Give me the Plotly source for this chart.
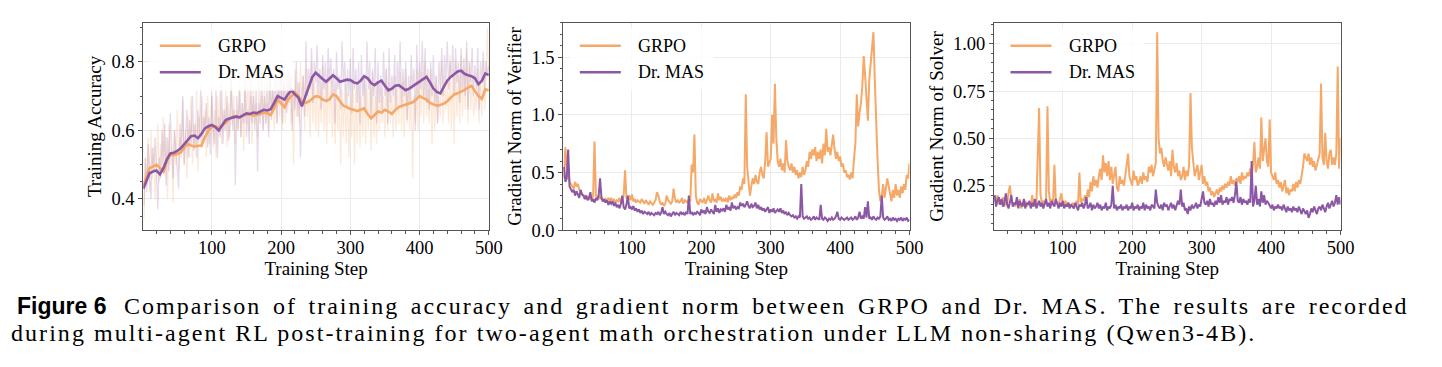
import plotly.graph_objects as go

# ---------------- data ----------------
steps_s = [1] + list(range(5, 501, 5))      # smoothed accuracy curves
steps_r = list(range(2, 501, 2))            # raw / per-step curves

acc_grpo_raw = [0.34, 0.52, 0.44, 0.58, 0.42,
    0.60, 0.46, 0.55, 0.40, 0.52, 0.62, 0.45, 0.56, 0.48, 0.64,
    0.47, 0.58, 0.40, 0.62, 0.50, 0.55, 0.39, 0.60, 0.50, 0.66,
    0.48, 0.58, 0.52, 0.69, 0.50, 0.60, 0.46, 0.64, 0.52, 0.70,
    0.50, 0.62, 0.55, 0.72, 0.48, 0.64, 0.55, 0.70, 0.58, 0.66,
    0.52, 0.70, 0.56, 0.62, 0.72, 0.55, 0.66, 0.52, 0.70, 0.60,
    0.74, 0.56, 0.66, 0.60, 0.72, 0.55, 0.68, 0.58, 0.74, 0.62,
    0.70, 0.56, 0.66, 0.60, 0.75, 0.58, 0.68, 0.54, 0.72, 0.62,
    0.76, 0.60, 0.70, 0.56, 0.74, 0.62, 0.68, 0.58, 0.76, 0.64,
    0.70, 0.60, 0.74, 0.62, 0.68, 0.60, 0.78, 0.64, 0.72, 0.60,
    0.70, 0.62, 0.76, 0.64, 0.72, 0.60, 0.80, 0.62, 0.74, 0.66,
    0.77, 0.62, 0.72, 0.50, 0.78, 0.64, 0.74, 0.62, 0.80, 0.66,
    0.76, 0.60, 0.78, 0.64, 0.72, 0.58, 0.80, 0.62, 0.74, 0.60,
    0.76, 0.58, 0.72, 0.62, 0.79, 0.60, 0.74, 0.56, 0.78, 0.62,
    0.76, 0.58, 0.72, 0.56, 0.74, 0.60, 0.70, 0.50, 0.72, 0.58,
    0.74, 0.56, 0.71, 0.52, 0.70, 0.58, 0.75, 0.50, 0.72, 0.56,
    0.73, 0.55, 0.70, 0.58, 0.76, 0.56, 0.72, 0.60, 0.74, 0.54,
    0.77, 0.58, 0.70, 0.56, 0.74, 0.60, 0.72, 0.62, 0.70, 0.58,
    0.78, 0.60, 0.74, 0.62, 0.70, 0.58, 0.76, 0.60, 0.72, 0.62,
    0.77, 0.60, 0.74, 0.58, 0.78, 0.62, 0.72, 0.60, 0.76, 0.46,
    0.70, 0.62, 0.78, 0.60, 0.74, 0.64, 0.77, 0.62, 0.80, 0.64,
    0.72, 0.62, 0.78, 0.56, 0.74, 0.60, 0.76, 0.62, 0.70, 0.64,
    0.80, 0.62, 0.76, 0.66, 0.74, 0.62, 0.82, 0.60, 0.78, 0.56,
    0.80, 0.64, 0.76, 0.62, 0.82, 0.64, 0.78, 0.66, 0.84, 0.62,
    0.80, 0.66, 0.76, 0.64, 0.70, 0.66, 0.78, 0.62, 0.74, 0.64,
    0.80, 0.66, 0.76, 0.90, 0.72]

acc_mas_raw = [0.38, 0.52, 0.42, 0.56, 0.47,
    0.40, 0.55, 0.48, 0.58, 0.44, 0.37, 0.52, 0.46, 0.60, 0.50,
    0.62, 0.44, 0.58, 0.48, 0.65, 0.52, 0.46, 0.60, 0.55, 0.50,
    0.43, 0.62, 0.54, 0.70, 0.50, 0.58, 0.66, 0.52, 0.63, 0.56,
    0.70, 0.54, 0.62, 0.52, 0.66, 0.58, 0.73, 0.55, 0.64, 0.60,
    0.68, 0.55, 0.64, 0.53, 0.70, 0.60, 0.56, 0.72, 0.52, 0.64,
    0.58, 0.74, 0.56, 0.66, 0.60, 0.70, 0.57, 0.62, 0.75, 0.60,
    0.66, 0.44, 0.70, 0.60, 0.72, 0.58, 0.68, 0.62, 0.75, 0.58,
    0.66, 0.56, 0.76, 0.62, 0.70, 0.60, 0.72, 0.48, 0.68, 0.62,
    0.77, 0.60, 0.70, 0.62, 0.74, 0.58, 0.80, 0.63, 0.72, 0.66,
    0.78, 0.62, 0.72, 0.68, 0.80, 0.62, 0.74, 0.70, 0.65, 0.78,
    0.68, 0.76, 0.60, 0.72, 0.66, 0.80, 0.64, 0.74, 0.52, 0.70,
    0.76, 0.64, 0.86, 0.70, 0.78, 0.72, 0.84, 0.68, 0.80, 0.74,
    0.85, 0.70, 0.78, 0.66, 0.82, 0.72, 0.80, 0.68, 0.84, 0.74,
    0.81, 0.70, 0.78, 0.62, 0.83, 0.72, 0.76, 0.66, 0.86, 0.74,
    0.80, 0.67, 0.78, 0.70, 0.81, 0.65, 0.84, 0.72, 0.78, 0.68,
    0.80, 0.62, 0.82, 0.70, 0.76, 0.66, 0.86, 0.72, 0.80, 0.64,
    0.78, 0.70, 0.84, 0.62, 0.80, 0.68, 0.76, 0.66, 0.83, 0.70,
    0.78, 0.62, 0.84, 0.68, 0.76, 0.70, 0.82, 0.66, 0.80, 0.72,
    0.86, 0.67, 0.78, 0.70, 0.80, 0.63, 0.76, 0.68, 0.82, 0.72,
    0.78, 0.60, 0.85, 0.70, 0.80, 0.72, 0.86, 0.70, 0.84, 0.68,
    0.78, 0.66, 0.80, 0.70, 0.82, 0.68, 0.76, 0.62, 0.80, 0.72,
    0.84, 0.70, 0.82, 0.74, 0.86, 0.72, 0.80, 0.76, 0.85, 0.70,
    0.84, 0.74, 0.80, 0.68, 0.84, 0.72, 0.81, 0.70, 0.86, 0.66,
    0.80, 0.74, 0.84, 0.70, 0.79, 0.72, 0.84, 0.66, 0.80, 0.74,
    0.83, 0.72, 0.80, 0.76, 0.79]

acc_grpo_smooth = [0.44,
    0.46, 0.49, 0.495, 0.50, 0.49, 0.48, 0.51, 0.53, 0.528, 0.532,
    0.535, 0.55, 0.56, 0.556, 0.553, 0.555, 0.556, 0.58, 0.60, 0.61,
    0.612, 0.608, 0.615, 0.622, 0.632, 0.64, 0.642, 0.638, 0.643, 0.645,
    0.647, 0.643, 0.645, 0.648, 0.652, 0.65, 0.645, 0.665, 0.69, 0.68,
    0.668, 0.69, 0.70, 0.71, 0.70, 0.685, 0.68, 0.684, 0.692, 0.70,
    0.698, 0.69, 0.686, 0.69, 0.705, 0.70, 0.685, 0.672, 0.668, 0.662,
    0.66, 0.656, 0.66, 0.664, 0.648, 0.635, 0.645, 0.655, 0.652, 0.66,
    0.655, 0.648, 0.66, 0.668, 0.672, 0.675, 0.678, 0.682, 0.69, 0.70,
    0.695, 0.69, 0.68, 0.675, 0.672, 0.674, 0.678, 0.685, 0.695, 0.705,
    0.708, 0.712, 0.718, 0.725, 0.73, 0.715, 0.70, 0.692, 0.72, 0.716]

acc_mas_smooth = [0.43,
    0.45, 0.475, 0.48, 0.483, 0.472, 0.49, 0.515, 0.533, 0.535, 0.54,
    0.548, 0.56, 0.57, 0.583, 0.585, 0.577, 0.59, 0.606, 0.612, 0.616,
    0.61, 0.60, 0.615, 0.63, 0.635, 0.637, 0.64, 0.638, 0.645, 0.65,
    0.648, 0.652, 0.65, 0.655, 0.66, 0.658, 0.662, 0.68, 0.70, 0.695,
    0.69, 0.705, 0.717, 0.705, 0.696, 0.67, 0.70, 0.725, 0.755, 0.768,
    0.758, 0.75, 0.742, 0.752, 0.761, 0.752, 0.742, 0.745, 0.748, 0.747,
    0.74, 0.737, 0.745, 0.758, 0.752, 0.738, 0.732, 0.74, 0.745, 0.73,
    0.717, 0.722, 0.73, 0.732, 0.725, 0.717, 0.722, 0.729, 0.735, 0.742,
    0.748, 0.756, 0.74, 0.722, 0.712, 0.708, 0.727, 0.745, 0.756, 0.765,
    0.772, 0.774, 0.765, 0.761, 0.758, 0.752, 0.735, 0.745, 0.766, 0.761]

ver_grpo = [0.45, 0.72, 0.55, 0.50, 0.42,
    0.40, 0.38, 0.36, 0.42, 0.38, 0.40, 0.35, 0.33, 0.31, 0.30,
    0.30, 0.28, 0.29, 0.27, 0.28, 0.26, 0.30, 0.77, 0.30, 0.28,
    0.30, 0.27, 0.29, 0.26, 0.25, 0.27, 0.25, 0.28, 0.26, 0.28,
    0.25, 0.27, 0.24, 0.26, 0.25, 0.28, 0.24, 0.26, 0.30, 0.52,
    0.28, 0.27, 0.30, 0.26, 0.31, 0.25, 0.27, 0.24, 0.26, 0.25,
    0.24, 0.27, 0.25, 0.23, 0.26, 0.24, 0.22, 0.25, 0.23, 0.22,
    0.24, 0.26, 0.33, 0.30, 0.25, 0.22, 0.24, 0.21, 0.23, 0.30,
    0.26, 0.24, 0.23, 0.25, 0.36, 0.27, 0.24, 0.26, 0.24, 0.25,
    0.28, 0.23, 0.26, 0.25, 0.24, 0.27, 0.25, 0.57, 0.50, 0.83,
    0.30, 0.24, 0.22, 0.27, 0.25, 0.24, 0.28, 0.23, 0.26, 0.30,
    0.26, 0.24, 0.32, 0.25, 0.27, 0.24, 0.32, 0.26, 0.29, 0.25,
    0.27, 0.25, 0.28, 0.24, 0.30, 0.26, 0.29, 0.27, 0.31, 0.28,
    0.33, 0.30, 0.38, 0.35, 0.45, 0.40, 1.18, 0.55, 0.42, 0.30,
    0.38, 0.45, 0.40, 0.48, 0.42, 0.40, 0.50, 0.55, 0.48, 0.45,
    0.60, 0.85, 0.55, 0.58, 0.62, 1.00, 0.75, 1.27, 0.80, 0.60,
    0.55, 0.62, 0.52, 0.58, 0.50, 0.78, 0.60, 0.55, 0.52, 0.58,
    0.50, 0.55, 0.48, 0.52, 0.45, 0.50, 0.46, 0.55, 0.48, 0.52,
    0.60, 0.55, 0.68, 0.62, 0.70, 0.65, 0.72, 0.60, 0.68, 0.62,
    0.70, 0.58, 0.75, 0.65, 0.88, 0.68, 0.72, 0.65, 0.75, 0.83,
    0.70, 0.62, 0.68, 0.60, 0.64, 0.55, 0.58, 0.50, 0.52, 0.46,
    0.48, 0.44, 0.50, 0.45, 0.62, 0.75, 1.18, 0.90, 1.02, 1.10,
    1.25, 1.51, 1.35, 1.10, 0.95, 1.30, 1.45, 1.60, 1.72, 1.30,
    0.85, 0.60, 0.35, 0.25, 0.30, 0.40, 0.28, 0.35, 0.45, 0.38,
    0.30, 0.25, 0.35, 0.28, 0.40, 0.30, 0.35, 0.28, 0.38, 0.32,
    0.40, 0.35, 0.48, 0.45, 0.58]

ver_mas = [0.55, 0.42, 0.45, 0.70, 0.38,
    0.36, 0.33, 0.35, 0.30, 0.34, 0.30, 0.28, 0.35, 0.31, 0.30,
    0.27, 0.30, 0.26, 0.28, 0.33, 0.25, 0.27, 0.24, 0.28, 0.26,
    0.30, 0.45, 0.28, 0.25, 0.27, 0.24, 0.26, 0.22, 0.25, 0.23,
    0.25, 0.21, 0.24, 0.20, 0.22, 0.19, 0.23, 0.30, 0.20, 0.18,
    0.22, 0.30, 0.19, 0.20, 0.18, 0.21, 0.17, 0.19, 0.16, 0.18,
    0.15, 0.17, 0.14, 0.16, 0.15, 0.14, 0.16, 0.13, 0.15, 0.14,
    0.13, 0.15, 0.14, 0.16, 0.13, 0.15, 0.20, 0.14, 0.16, 0.14,
    0.13, 0.15, 0.12, 0.14, 0.16, 0.13, 0.15, 0.14, 0.13, 0.16,
    0.14, 0.15, 0.13, 0.16, 0.14, 0.30, 0.14, 0.16, 0.13, 0.15,
    0.14, 0.16, 0.15, 0.13, 0.18, 0.15, 0.17, 0.14, 0.20, 0.16,
    0.15, 0.18, 0.16, 0.14, 0.22, 0.16, 0.19, 0.15, 0.18, 0.17,
    0.19, 0.16, 0.22, 0.18, 0.20, 0.17, 0.24, 0.19, 0.21, 0.18,
    0.20, 0.19, 0.24, 0.21, 0.23, 0.20, 0.22, 0.25, 0.21, 0.19,
    0.23, 0.20, 0.21, 0.24, 0.19, 0.22, 0.18, 0.20, 0.17, 0.19,
    0.16, 0.18, 0.20, 0.15, 0.18, 0.16, 0.19, 0.15, 0.17, 0.18,
    0.16, 0.19, 0.15, 0.17, 0.14, 0.16, 0.13, 0.15, 0.13, 0.12,
    0.13, 0.11, 0.12, 0.10, 0.12, 0.11, 0.40, 0.12, 0.10, 0.11,
    0.12, 0.10, 0.11, 0.09, 0.10, 0.12, 0.09, 0.11, 0.10, 0.09,
    0.22, 0.10, 0.09, 0.11, 0.10, 0.08, 0.10, 0.09, 0.11, 0.09,
    0.10, 0.12, 0.16, 0.10, 0.09, 0.11, 0.10, 0.09, 0.10, 0.11,
    0.09, 0.10, 0.11, 0.09, 0.10, 0.12, 0.09, 0.11, 0.16, 0.10,
    0.12, 0.10, 0.20, 0.11, 0.25, 0.10, 0.11, 0.09, 0.12, 0.10,
    0.09, 0.11, 0.10, 0.12, 0.30, 0.11, 0.09, 0.10, 0.12, 0.09,
    0.10, 0.08, 0.11, 0.09, 0.10, 0.08, 0.10, 0.09, 0.11, 0.08,
    0.10, 0.09, 0.11, 0.08, 0.09]

sol_grpo = [0.18, 0.16, 0.20, 0.15, 0.17,
    0.15, 0.19, 0.14, 0.16, 0.15, 0.22, 0.25, 0.17, 0.15, 0.16,
    0.14, 0.17, 0.15, 0.18, 0.13, 0.16, 0.15, 0.17, 0.14, 0.15,
    0.16, 0.14, 0.20, 0.15, 0.17, 0.15, 0.45, 0.66, 0.20, 0.16,
    0.17, 0.15, 0.18, 0.67, 0.22, 0.16, 0.18, 0.15, 0.36, 0.17,
    0.16, 0.15, 0.18, 0.21, 0.16, 0.15, 0.17, 0.14, 0.16, 0.15,
    0.14, 0.16, 0.15, 0.14, 0.17, 0.15, 0.32, 0.16, 0.18, 0.17,
    0.20, 0.17, 0.23, 0.19, 0.27, 0.22, 0.30, 0.25, 0.28, 0.24,
    0.30, 0.34, 0.28, 0.41, 0.32, 0.37, 0.30, 0.38, 0.28, 0.35,
    0.26, 0.30, 0.35, 0.24, 0.22, 0.30, 0.26, 0.28, 0.25, 0.30,
    0.35, 0.42, 0.30, 0.28, 0.25, 0.33, 0.28, 0.30, 0.25, 0.27,
    0.30, 0.26, 0.32, 0.28, 0.30, 0.27, 0.35, 0.32, 0.36, 0.30,
    0.33, 0.37, 1.06, 0.50, 0.42, 0.45, 0.38, 0.35, 0.40, 0.37,
    0.33, 0.38, 0.30, 0.44, 0.35, 0.32, 0.37, 0.30, 0.33, 0.28,
    0.30, 0.35, 0.28, 0.33, 0.30, 0.36, 0.74, 0.45, 0.35, 0.30,
    0.33, 0.36, 0.28, 0.32, 0.36, 0.26, 0.30, 0.25, 0.27, 0.22,
    0.24, 0.20, 0.22, 0.19, 0.21, 0.23, 0.20, 0.24, 0.22, 0.25,
    0.23, 0.26, 0.24, 0.27, 0.25, 0.30, 0.26, 0.28, 0.25, 0.29,
    0.27, 0.30, 0.26, 0.32, 0.28, 0.30, 0.29, 0.32, 0.30, 0.34,
    0.30, 0.36, 0.48, 0.32, 0.35, 0.40, 0.34, 0.61, 0.38, 0.45,
    0.50, 0.38, 0.35, 0.60, 0.32, 0.30, 0.28, 0.32, 0.26, 0.28,
    0.24, 0.27, 0.22, 0.25, 0.28, 0.21, 0.24, 0.20, 0.23, 0.22,
    0.26, 0.22, 0.27, 0.24, 0.28, 0.26, 0.30, 0.35, 0.42, 0.40,
    0.38, 0.42, 0.36, 0.40, 0.35, 0.38, 0.33, 0.36, 0.40, 0.42,
    0.79, 0.40, 0.36, 0.53, 0.38, 0.34, 0.42, 0.44, 0.36, 0.40,
    0.36, 0.42, 0.88, 0.34, 0.50]

sol_mas = [0.20, 0.14, 0.17, 0.19, 0.15,
    0.18, 0.14, 0.16, 0.21, 0.15, 0.13, 0.17, 0.20, 0.14, 0.16,
    0.15, 0.19, 0.13, 0.17, 0.15, 0.14, 0.18, 0.13, 0.16, 0.15,
    0.17, 0.13, 0.16, 0.14, 0.18, 0.13, 0.15, 0.17, 0.14, 0.16,
    0.13, 0.15, 0.18, 0.14, 0.16, 0.13, 0.17, 0.15, 0.14, 0.18,
    0.15, 0.13, 0.16, 0.14, 0.17, 0.13, 0.15, 0.14, 0.16, 0.13,
    0.15, 0.14, 0.13, 0.16, 0.14, 0.12, 0.15, 0.14, 0.16, 0.13,
    0.15, 0.19, 0.13, 0.14, 0.16, 0.12, 0.15, 0.13, 0.14, 0.16,
    0.13, 0.15, 0.12, 0.14, 0.13, 0.16, 0.12, 0.14, 0.13, 0.15,
    0.25, 0.13, 0.15, 0.12, 0.14, 0.13, 0.15, 0.12, 0.14, 0.13,
    0.15, 0.12, 0.14, 0.13, 0.16, 0.12, 0.14, 0.13, 0.15, 0.12,
    0.14, 0.13, 0.16, 0.12, 0.15, 0.13, 0.14, 0.12, 0.15, 0.14,
    0.13, 0.23, 0.16, 0.14, 0.13, 0.15, 0.12, 0.16, 0.14, 0.15,
    0.12, 0.14, 0.16, 0.13, 0.15, 0.12, 0.14, 0.17, 0.15, 0.23,
    0.14, 0.16, 0.12, 0.13, 0.10, 0.14, 0.12, 0.15, 0.13, 0.14,
    0.16, 0.13, 0.15, 0.14, 0.18, 0.22, 0.16, 0.15, 0.17, 0.14,
    0.18, 0.15, 0.16, 0.14, 0.17, 0.15, 0.19, 0.16, 0.20, 0.15,
    0.17, 0.16, 0.19, 0.15, 0.18, 0.17, 0.19, 0.16, 0.20, 0.27,
    0.17, 0.16, 0.19, 0.15, 0.18, 0.16, 0.17, 0.15, 0.18, 0.16,
    0.38, 0.14, 0.17, 0.25, 0.15, 0.18, 0.14, 0.22, 0.16, 0.20,
    0.15, 0.17, 0.16, 0.14, 0.13, 0.15, 0.12, 0.14, 0.13, 0.15,
    0.13, 0.14, 0.12, 0.15, 0.13, 0.11, 0.14, 0.12, 0.13, 0.11,
    0.14, 0.12, 0.13, 0.11, 0.14, 0.12, 0.10, 0.13, 0.11, 0.10,
    0.12, 0.08, 0.10, 0.13, 0.11, 0.14, 0.12, 0.10, 0.13, 0.14,
    0.12, 0.15, 0.13, 0.11, 0.14, 0.16, 0.13, 0.15, 0.17, 0.14,
    0.16, 0.20, 0.15, 0.19, 0.15]

x_ticks = [100, 200, 300, 400, 500]
series_names = ["GRPO", "Dr. MAS"]
y_titles = ["Training Accuracy", "Gradient Norm of Verifier", "Gradient Norm of Solver"]
x_title = "Training Step"
caption_head = "Figure 6"
caption_line1 = "Comparison of training accuracy and gradient norm between GRPO and Dr. MAS. The results are recorded"
caption_line2 = "during multi-agent RL post-training for two-agent math orchestration under LLM non-sharing (Qwen3-4B)."

# ---------------- style / layout ----------------
W, H = 1442, 367
ORANGE = "#F5A867"
PURPLE = "#8C58A5"
SERIF = "Liberation Serif"

panels_px = [(143.3, 488.8), (563.3, 909.5), (994.0, 1340.5)]
ytop_px, ybot_px = 22.7, 230.2
y_ranges = [[0.309, 0.914], [0.0, 1.8], [0.015, 1.111]]
y_dticks = [0.2, 0.5, 0.25]
y_minor = [0.05, 0.1, 0.05]
y_fmt = [".1f", ".1f", ".2f"]

fig = go.Figure()

def add(xs, ys, k, color, width, opacity=1.0):
    fig.add_trace(go.Scatter(
        x=xs, y=ys, mode="lines", xaxis="x" if k == 0 else f"x{k+1}",
        yaxis="y" if k == 0 else f"y{k+1}",
        line=dict(color=color, width=width), opacity=opacity,
        showlegend=False, hoverinfo="skip"))

add(steps_r, acc_grpo_raw, 0, ORANGE, 1.3, 0.25)
add(steps_r, acc_mas_raw, 0, PURPLE, 1.3, 0.22)
add(steps_s, acc_grpo_smooth, 0, ORANGE, 2.6)
add(steps_s, acc_mas_smooth, 0, PURPLE, 2.6)
add(steps_r, ver_grpo, 1, ORANGE, 2.0)
add(steps_r, ver_mas, 1, PURPLE, 2.0)
add(steps_r, sol_grpo, 2, ORANGE, 2.0)
add(steps_r, sol_mas, 2, PURPLE, 2.0)

layout = dict(width=W, height=H, margin=dict(l=0, r=0, t=0, b=0),
              paper_bgcolor="white", plot_bgcolor="white", showlegend=False)

axis_line = dict(showline=True, mirror=True, linecolor="#555555", linewidth=1,
                 ticks="outside", ticklen=4, tickwidth=1, tickcolor="#555555",
                 showgrid=True, gridcolor="#ebebeb", gridwidth=1, zeroline=False,
                 automargin=False,
                 tickfont=dict(family=SERIF, size=18.5, color="black"))

shapes = []
annotations = []
for k, (x0, x1) in enumerate(panels_px):
    sfx = "" if k == 0 else str(k + 1)
    layout["xaxis" + sfx] = dict(
        axis_line, domain=[x0 / W, x1 / W], range=[1, 500], tickvals=x_ticks,
        anchor="y" + sfx, ticklabelstandoff=-3,
        minor=dict(dtick=20, tick0=0, ticks="outside", ticklen=2.5, tickcolor="#555555", showgrid=False),
        title=dict(text=x_title, font=dict(family=SERIF, size=19, color="black"), standoff=3))
    layout["yaxis" + sfx] = dict(
        axis_line, domain=[1 - ybot_px / H, 1 - ytop_px / H], range=y_ranges[k],
        dtick=y_dticks[k], tick0=0, tickformat=y_fmt[k], anchor="x" + sfx,
        minor=dict(dtick=y_minor[k], tick0=0, ticks="outside", ticklen=2.5, tickcolor="#555555", showgrid=False),
        title=dict(text=y_titles[k], font=dict(family=SERIF, size=19, color="black"), standoff=4))

    # legend drawn like the matplotlib legend
    pw = x1 - x0
    ph = ybot_px - ytop_px
    xr = "x" + sfx + " domain"
    yr = "y" + sfx + " domain"
    shapes.append(dict(type="rect", xref=xr, yref=yr, layer="above",
                       x0=6 / pw, x1=150 / pw, y0=1 - 68 / ph, y1=1 - 5 / ph,
                       fillcolor="rgba(255,255,255,0.8)", line=dict(width=0)))
    for j, (name, col) in enumerate(zip(series_names, [ORANGE, PURPLE])):
        yy = 1 - (23 + 26.5 * j) / ph
        shapes.append(dict(type="line", xref=xr, yref=yr, layer="above",
                           x0=16.5 / pw, x1=57.5 / pw, y0=yy, y1=yy,
                           line=dict(color=col, width=2.6)))
        annotations.append(dict(text=name, xref=xr, yref=yr, x=72.5 / pw, y=yy,
                                xanchor="left", yanchor="middle", showarrow=False,
                                font=dict(family=SERIF, size=18, color="black")))

annotations.append(dict(text="<b>" + caption_head + "</b>", xref="paper", yref="paper",
                        x=15 / W, y=1 - 306 / H, xanchor="left", yanchor="middle",
                        showarrow=False, font=dict(family="Liberation Sans", size=23, color="black")))
annotations.append(dict(text='<span style="font-family:Liberation Serif;letter-spacing:2px;word-spacing:3.6px">'
                        + caption_line1 + "</span>",
                        xref="paper", yref="paper",
                        x=122 / W, y=1 - 306 / H, xanchor="left", yanchor="middle",
                        showarrow=False, font=dict(family=SERIF, size=24, color="black")))
annotations.append(dict(text='<span style="font-family:Liberation Serif;letter-spacing:2.05px">'
                        + caption_line2 + "</span>",
                        xref="paper", yref="paper",
                        x=9 / W, y=1 - 333 / H, xanchor="left", yanchor="middle",
                        showarrow=False, font=dict(family=SERIF, size=24, color="black")))

layout["shapes"] = shapes
layout["annotations"] = annotations
fig.update_layout(**layout)
fig.write_html("out.html")
